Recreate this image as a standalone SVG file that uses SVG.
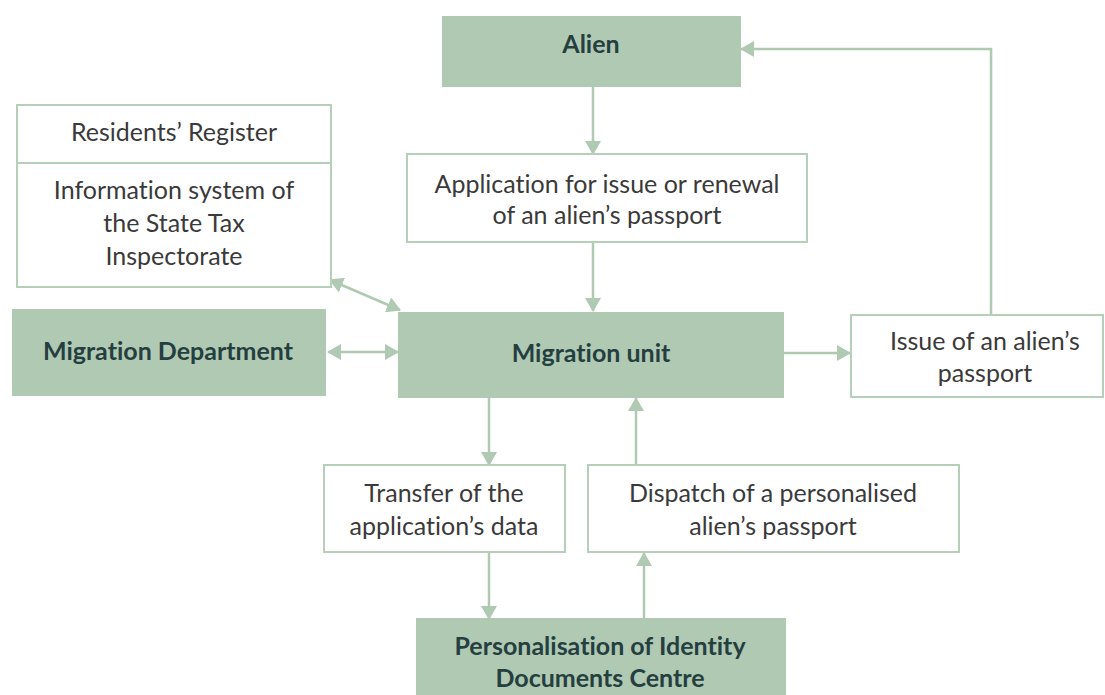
<svg xmlns="http://www.w3.org/2000/svg" width="1105" height="695" viewBox="0 0 1105 695">
<defs>
<style>
.fill{fill:#b0c9b3;stroke:#b0c9b3;stroke-width:2}
.box{fill:#fff;stroke:#b5cfb8;stroke-width:2}
.t{font-family:Lato,"Open Sans",sans-serif;font-size:25px;fill:#3a3a3a;text-anchor:middle;font-variant-ligatures:none}
.b{font-family:Lato,"Open Sans",sans-serif;font-size:25px;font-weight:bold;fill:#253f40;text-anchor:middle;font-variant-ligatures:none}
.c{fill:none;stroke:#b0c9b3;stroke-width:2.5}
</style>
<marker id="ah" markerUnits="userSpaceOnUse" markerWidth="14" markerHeight="16" refX="13" refY="8" orient="auto-start-reverse">
<path d="M0,0 L14,8 L0,16 Z" fill="#b0c9b3"/>
</marker>
</defs>
<rect width="1105" height="695" fill="#fff"/>
<g id="connectors">
<path class="c" d="M593,86 V154" marker-end="url(#ah)"/>
<path class="c" d="M593,242 V311" marker-end="url(#ah)"/>
<path class="c" d="M991,314 V49 H741" marker-end="url(#ah)"/>
<path class="c" d="M783,353 H850" marker-end="url(#ah)"/>
<path class="c" d="M328,352 H398" marker-start="url(#ah)" marker-end="url(#ah)"/>
<path class="c" d="M330,280 L400,310" marker-start="url(#ah)" marker-end="url(#ah)"/>
<path class="c" d="M489,397 V465" marker-end="url(#ah)"/>
<path class="c" d="M636,465 V398" marker-end="url(#ah)"/>
<path class="c" d="M489,552 V619" marker-end="url(#ah)"/>
<path class="c" d="M644,619 V553" marker-end="url(#ah)"/>
</g>
<g id="alien">
<rect class="fill" x="443" y="17" width="297" height="69"/>
<text class="b" x="591" y="53">Alien</text>
</g>
<g id="application">
<rect class="box" x="407" y="154" width="400" height="88"/>
<text class="t" x="607" y="193">Application for issue or renewal</text>
<text class="t" x="607" y="224">of an alien’s passport</text>
</g>
<g id="registers">
<rect class="box" x="17" y="105" width="314" height="58"/>
<text class="t" x="174" y="141">Residents’ Register</text>
<rect class="box" x="17" y="163" width="314" height="124"/>
<text class="t" x="174" y="199">Information system of</text>
<text class="t" x="174" y="232">the State Tax</text>
<text class="t" x="174" y="265">Inspectorate</text>
</g>
<g id="migration-department">
<rect class="fill" x="13" y="310" width="312" height="85"/>
<text class="b" x="168" y="360">Migration Department</text>
</g>
<g id="migration-unit">
<rect class="fill" x="399" y="313" width="384" height="84"/>
<text class="b" x="591" y="362">Migration unit</text>
</g>
<g id="issue">
<rect class="box" x="851" y="315" width="252" height="82"/>
<text class="t" x="985" y="350">Issue of an alien’s</text>
<text class="t" x="985" y="382">passport</text>
</g>
<g id="transfer">
<rect class="box" x="324" y="465" width="241" height="87"/>
<text class="t" x="444" y="502">Transfer of the</text>
<text class="t" x="444" y="535">application’s data</text>
</g>
<g id="dispatch">
<rect class="box" x="588" y="465" width="371" height="87"/>
<text class="t" x="773" y="502">Dispatch of a personalised</text>
<text class="t" x="773" y="535">alien’s passport</text>
</g>
<g id="personalisation">
<rect class="fill" x="417" y="619" width="368" height="80"/>
<text class="b" x="600" y="655">Personalisation of Identity</text>
<text class="b" x="600" y="687">Documents Centre</text>
</g>
</svg>
